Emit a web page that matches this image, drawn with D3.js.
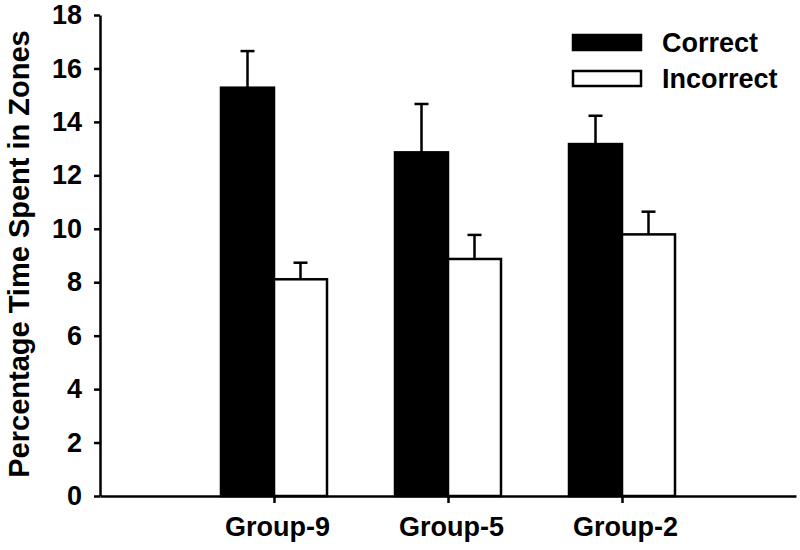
<!DOCTYPE html>
<html>
<head>
<meta charset="utf-8">
<script src="https://cdn.jsdelivr.net/npm/d3@7"></script>
<style>
	body { margin: 0; background: #fff; }
	text { font-family: "Liberation Sans", Arial, sans-serif; font-weight: bold; fill: #000; }
</style>
</head>
<body>
<script>

// data
var groups = ["Group-9", "Group-5", "Group-2"];
var series = ["Correct", "Incorrect"];
var correct = [15.28, 12.86, 13.17];
var correct_err = [1.37, 1.81, 1.06];
var incorrect = [8.11, 8.87, 9.79];
var incorrect_err = [0.62, 0.90, 0.85];
var y_ticks = [0, 2, 4, 6, 8, 10, 12, 14, 16, 18];

var width = 800,
	height = 550;

var margin = {top: 15, left: 100, right: 4, bottom: 54};

var BAR_HALF = 53;
var CAP = 7;

var svg = d3.select("body").append("svg")
	.attr("width", width)
	.attr("height", height);

var x = d3.scalePoint()
	.domain(groups)
	.range([margin.left, width - margin.right])
	.padding(1);

var x_sub = d3.scaleBand()
	.domain(series)
	.range([-BAR_HALF, BAR_HALF]);

var y = d3.scaleLinear()
	.domain([0, 18])
	.range([height - margin.bottom, margin.top]);

// build rows for the bars
var rows = [];
groups.forEach(function(g, i) {
	rows.push({group: g, series: "Correct", value: correct[i], err: correct_err[i]});
	rows.push({group: g, series: "Incorrect", value: incorrect[i], err: incorrect_err[i]});
});

var fill = d3.scaleOrdinal().domain(series).range(["#000", "#fff"]);

function bar_mid(d) { return x(d.group) + x_sub(d.series) + x_sub.bandwidth() / 2; }

// error bars (upwards only), drawn before bars
var err = svg.append("g")
	.attr("stroke", "#000")
	.attr("stroke-width", 2.5);

err.selectAll("line.stem")
	.data(rows)
	.enter().append("line")
	.attr("x1", bar_mid)
	.attr("x2", bar_mid)
	.attr("y1", function(d) { return y(d.value); })
	.attr("y2", function(d) { return y(d.value + d.err); });

err.selectAll("line.cap")
	.data(rows)
	.enter().append("line")
	.attr("x1", function(d) { return bar_mid(d) - CAP; })
	.attr("x2", function(d) { return bar_mid(d) + CAP; })
	.attr("y1", function(d) { return y(d.value + d.err); })
	.attr("y2", function(d) { return y(d.value + d.err); });

// bars
svg.append("g")
	.selectAll("rect")
	.data(rows)
	.enter().append("rect")
	.attr("x", function(d) { return x(d.group) + x_sub(d.series); })
	.attr("y", function(d) { return y(d.value); })
	.attr("width", x_sub.bandwidth())
	.attr("height", function(d) { return y(0) - y(d.value); })
	.attr("fill", function(d) { return fill(d.series); })
	.attr("stroke", "#000")
	.attr("stroke-width", 2.5);

// y axis
var y_axis = svg.append("g")
	.attr("transform", "translate(" + margin.left + ",0)")
	.call(d3.axisLeft(y).tickValues(y_ticks).tickSize(6).tickPadding(12).tickSizeOuter(0));

y_axis.selectAll("path, line").attr("stroke", "#000").attr("stroke-width", 2.5);
y_axis.selectAll("text")
	.style("font-size", "27px")
	.style("font-family", "'Liberation Sans', Arial, sans-serif")
	.style("font-weight", "bold");

// x axis
var x_axis = svg.append("g")
	.attr("transform", "translate(0," + y(0) + ")")
	.call(d3.axisBottom(x).tickSize(7).tickPadding(14).tickSizeOuter(0));

x_axis.selectAll("path, line").attr("stroke", "#000").attr("stroke-width", 2.5);
x_axis.selectAll("text")
	.attr("dx", 3)
	.style("font-size", "27px")
	.style("font-family", "'Liberation Sans', Arial, sans-serif")
	.style("font-weight", "bold");

// y axis title
svg.append("text")
	.attr("transform", "translate(29," + 254 + ") rotate(-90)")
	.style("text-anchor", "middle")
	.style("font-size", "29px")
	.text("Percentage Time Spent in Zones");

// legend
var legend = svg.append("g")
	.selectAll("g")
	.data(series)
	.enter().append("g")
	.attr("transform", function(d, i) { return "translate(573," + (35 + i * 36) + ")"; });

legend.append("rect")
	.attr("width", 68)
	.attr("height", 15)
	.attr("fill", function(d) { return fill(d); })
	.attr("stroke", "#000")
	.attr("stroke-width", 2.5);

legend.append("text")
	.attr("x", 89)
	.attr("y", 17)
	.style("font-size", "27px")
	.text(function(d) { return d; });

</script>
</body>
</html>
